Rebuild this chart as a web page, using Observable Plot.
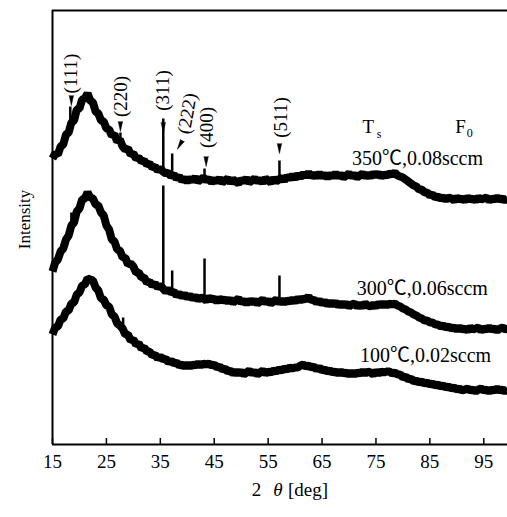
<!DOCTYPE html>
<html><head><meta charset="utf-8">
<script src="https://cdn.jsdelivr.net/npm/d3@7"></script>
<script src="https://cdn.jsdelivr.net/npm/@observablehq/plot@0.6"></script>
<style>
body{margin:0;background:#fff;}
g[aria-label="trace-labels"] text{letter-spacing:2px;}
g[aria-label="peak-labels"] text{letter-spacing:1.5px;}
</style>
</head><body><div id="chart"></div>
<script>
// 2θ sample positions (deg)
const twoTheta = [
15,15.5,16,16.5,17,17.5,18,18.5,19,19.5,
20,20.5,21,21.5,22,22.5,23,23.5,24,24.5,
25,25.5,26,26.5,27,27.5,28,28.5,29,29.5,
30,30.5,31,31.5,32,32.5,33,33.5,34,34.5,
35,35.5,36,36.5,37,37.5,38,38.5,39,39.5,
40,40.5,41,41.5,42,42.5,43,43.5,44,44.5,
45,45.5,46,46.5,47,47.5,48,48.5,49,49.5,
50,50.5,51,51.5,52,52.5,53,53.5,54,54.5,
55,55.5,56,56.5,57,57.5,58,58.5,59,59.5,
60,60.5,61,61.5,62,62.5,63,63.5,64,64.5,
65,65.5,66,66.5,67,67.5,68,68.5,69,69.5,
70,70.5,71,71.5,72,72.5,73,73.5,74,74.5,
75,75.5,76,76.5,77,77.5,78,78.5,79,79.5,
80,80.5,81,81.5,82,82.5,83,83.5,84,84.5,
85,85.5,86,86.5,87,87.5,88,88.5,89,89.5,
90,90.5,91,91.5,92,92.5,93,93.5,94,94.5,
95,95.5,96,96.5,97,97.5,98,98.5,99,99.5];

// Intensity (arb. units, offset traces)
const s350 = [
286,291,290,298,300,310,312,322,324,335,
336,345,346,351,344,342,333,331,324,323,
316,315,309,310,303,305,298,295,296,290,
291,286,287,283,284,280,281,277,278,274,
276,273,271,272,268,270,266,268,264,266,
263,266,264,267,263,265,267,264,266,262,
265,263,266,262,264,266,262,265,263,261,
265,263,266,262,264,266,263,265,262,266,
264,262,266,263,265,267,264,268,266,269,
266,270,267,271,268,272,268,270,268,271,
268,270,267,270,268,271,268,270,267,269,
271,268,270,267,269,271,268,270,268,271,
269,271,268,270,269,271,270,272,269,268,
267,265,263,261,259,258,255,255,252,252,
249,250,247,248,246,247,245,247,246,244,
247,245,246,244,247,245,246,244,247,245,
246,247,244,246,245,247,245,246,244,246];

const s300 = [
173,182,185,193,196,205,209,219,222,233,
236,245,246,252,247,246,240,239,232,229,
219,215,205,203,195,194,187,187,180,181,
178,172,172,167,167,162,163,159,161,157,
159,156,153,155,152,153,149,151,148,150,
147,149,146,148,145,147,146,144,147,145,
146,143,146,144,145,143,145,142,144,146,
142,144,141,144,142,144,141,143,145,142,
144,141,143,145,142,144,142,144,143,145,
143,146,144,146,145,148,144,145,142,144,
141,143,140,142,140,142,139,141,139,141,
138,140,141,138,140,138,141,139,138,140,
138,141,139,141,139,141,140,141,139,138,
136,135,133,132,130,129,127,126,124,124,
122,122,120,120,118,119,117,118,116,117,
115,117,115,116,114,117,115,116,117,114,
116,115,117,115,116,114,116,117,115,116];

const s100 = [
110,117,118,125,126,133,134,141,142,150,
152,159,160,166,165,164,157,154,146,145,
139,138,130,128,121,119,116,110,110,104,
105,100,101,96,97,93,93,89,90,86,
88,85,86,82,84,81,82,79,80,78,
80,78,80,79,81,79,81,80,81,79,
80,77,78,75,76,73,74,71,73,71,
73,70,72,74,71,73,70,72,74,71,
73,72,74,73,75,74,76,75,77,76,
77,77,79,80,78,79,77,78,75,77,
74,75,73,74,72,73,71,73,71,72,
70,72,70,72,71,73,71,73,72,70,
73,71,73,72,73,73,71,72,70,70,
67,68,65,66,63,64,62,63,61,62,
60,61,59,60,58,59,57,58,56,57,
55,56,54,55,56,54,55,53,55,56,
54,55,53,55,54,56,54,55,53,55];

// Sharp diffraction peaks: position, foot and tip intensity
const spikeX    = [18.3, 27.6, 35.55, 37.2, 43.2, 57.1, 18.5, 35.55, 37.2, 43.2, 57.1, 28.1];
const spikeFoot = [316, 303, 272, 268, 265, 264, 218, 155, 151, 145, 142, 114];
const spikeTip  = [338, 312, 326, 291, 276, 284, 232, 259, 174, 186, 169, 127];

// Peak index labels and markers
const peakNames = ["(111)", "(220)", "(311)", "(222)", "(400)", "(511)"];
const peakLabelX = [18.5, 27.6, 35.55, 40.0, 43.7, 57.3];
const peakLabelY = [371, 348, 354, 331, 317, 327];
const peakLabelAngle = [-90, -90, -90, -80, -90, -90];
const markerX = [18.5, 27.6, 35.55, 39.1, 43.5, 57.1];
const markerY = [349, 323, 322, 304, 288, 301];
const markerDir = [180, 180, 180, 210, 180, 180];

// Trace labels
const seriesNames = ["350℃,0.08sccm", "300℃,0.06sccm", "100℃,0.02sccm"];
const seriesLabelX = [82.7, 83.6, 84.2];
const seriesLabelY = [286, 155.5, 88.5];
const symbolText = ["T", "F"];
const symbolX = [73.6, 90.7];
const symbolY = [318, 318];
const subText = ["s", "0"];
const subX = [75.6, 92.4];
const subY = [310, 311];

const xTicks = [15, 25, 35, 45, 55, 65, 75, 85, 95];
const xTitleParts = ["2", "θ", "[deg]"];
const yTitle = "Intensity";

const serif = "'Liberation Serif', 'Times New Roman', 'Noto Sans CJK SC', serif";

const rows = [];
[["350", s350], ["300", s300], ["100", s100]].forEach(([k, arr]) => {
  twoTheta.forEach((t, i) => rows.push({series: k, t, v: arr[i]}));
});
const spikes = spikeX.map((x, i) => ({x, y1: spikeFoot[i], y2: spikeTip[i]}));
const peaks = peakNames.map((n, i) => ({n, x: peakLabelX[i], y: peakLabelY[i], a: peakLabelAngle[i]}));
const markers = markerX.map((x, i) => ({x, y: markerY[i], r: markerDir[i]}));
const labels = seriesNames.map((n, i) => ({n, x: seriesLabelX[i], y: seriesLabelY[i]}));
const syms = symbolText.map((n, i) => ({n, x: symbolX[i], y: symbolY[i]}));
const subs = subText.map((n, i) => ({n, x: subX[i], y: subY[i]}));

const chart = Plot.plot({
  width: 507, height: 517,
  marginLeft: 52, marginRight: 0, marginTop: 10, marginBottom: 73,
  style: {fontFamily: serif, fontSize: "18px", color: "black", background: "white", overflow: "visible"},
  x: {domain: [15, 99.4]},
  y: {domain: [0, 434], axis: null},
  marks: [
    Plot.ruleX([15], {strokeWidth: 2}),
    Plot.ruleY([0, 434], {strokeWidth: 2}),
    Plot.ruleX(xTicks, {insetTop: 428, strokeWidth: 1.5}),
    Plot.axisX({ticks: xTicks, tickSize: 0, tickPadding: 10, label: null, fontSize: 19, fontFamily: serif}),
    Plot.line(rows, {x: "t", y: "v", z: "series", stroke: "black", strokeWidth: 8, strokeLinejoin: "bevel", strokeLinecap: "butt"}),
    Plot.link(spikes, {x1: "x", x2: "x", y1: "y1", y2: "y2", stroke: "black", strokeWidth: 2.5}),
    Plot.vector(markers, {x: "x", y: "y", rotate: "r", length: 10, shape: "spike", r: 2.2, anchor: "start", fill: "black", stroke: "black", strokeWidth: 0.5}),
    Plot.text(peaks, {x: "x", y: "y", text: "n", rotate: "a", fontSize: 19, fontFamily: serif, ariaLabel: "peak-labels"}),
    Plot.text(labels, {x: "x", y: "y", text: "n", fontSize: 20, fontFamily: serif, ariaLabel: "trace-labels"}),
    Plot.text(syms, {x: "x", y: "y", text: "n", fontSize: 19, fontFamily: serif}),
    Plot.text(subs, {x: "x", y: "y", text: "n", fontSize: 12, fontFamily: serif}),
    Plot.text([yTitle], {frameAnchor: "left", textAnchor: "middle", rotate: -90, dx: -28, dy: -8, fontSize: 17, fontFamily: serif}),
    Plot.text([xTitleParts[0]], {frameAnchor: "bottom", dx: -23.5, dy: 51, fontSize: 19, fontFamily: serif}),
    Plot.text([xTitleParts[1]], {frameAnchor: "bottom", dx: -2, dy: 51, fontSize: 19, fontFamily: serif, fontStyle: "italic"}),
    Plot.text([xTitleParts[2]], {frameAnchor: "bottom", dx: 28, dy: 51, fontSize: 19, fontFamily: serif})
  ]
});
document.getElementById("chart").append(chart);
</script></body></html>
